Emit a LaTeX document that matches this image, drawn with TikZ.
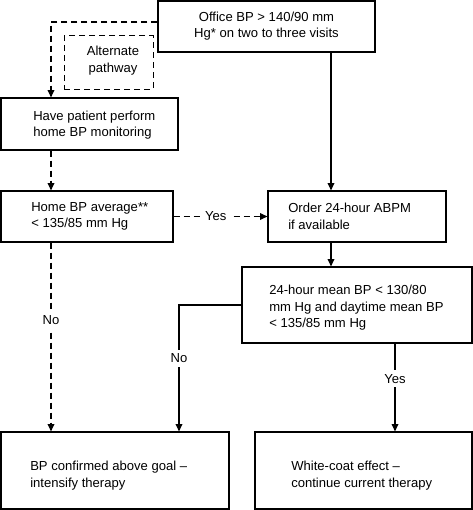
\documentclass[tikz,border=0pt]{standalone}
\usepackage{fontspec}
\setmainfont{Liberation Sans}
\usetikzlibrary{arrows.meta}
\begin{document}
\begin{tikzpicture}[x=0.75pt,y=-0.75pt,
  box/.style={draw, line width=0.9pt, inner sep=0pt},
  txt/.style={inner sep=0pt, font=\fontsize{9.8}{12.4}\selectfont, align=left},
  ctxt/.style={txt, align=center},
  arr/.style={line width=0.9pt, -{Triangle[length=5.5pt,width=5pt]}},
  dsh/.style={dash pattern=on 4.5pt off 3pt},
  lbl/.style={fill=white, inner sep=3pt, font=\fontsize{9.8}{12.4}\selectfont}]
\useasboundingbox (0,0) rectangle (473,510);
% lanes
\coordinate (laneL) at (51,0);
\coordinate (laneM) at (179,0);
\coordinate (laneR) at (331,0);
\coordinate (laneY) at (395,0);
% boxes
\node[box, minimum width=162.75pt, minimum height=38.25pt] (b1) at (266.5,26.5) {};
\node[box, dsh, line width=0.75pt, minimum width=66.75pt, minimum height=39.75pt] (bA) at (108.5,62.5) {};
\node[box, minimum width=132.75pt, minimum height=39pt] (b2) at (89.5,124) {};
\node[box, minimum width=129pt, minimum height=38.25pt] (b3) at (87,216.5) {};
\node[box, minimum width=133.5pt, minimum height=38.25pt] (b4) at (357,216.5) {};
\node[box, minimum width=172.5pt, minimum height=57pt] (b5) at (357,305) {};
\node[box, minimum width=171pt, minimum height=57.75pt] (b6) at (115,470.5) {};
\node[box, minimum width=162.75pt, minimum height=57.75pt] (b7) at (363.5,470.5) {};
% texts
\node[ctxt] (t1) at (266.5,26) {Office BP > 140/90 mm\\Hg* on two to three visits};
\node[ctxt] (tA) at (113,60.5) {Alternate\\pathway};
\node[txt, anchor=west] (t2) at (33,125) {Have patient perform\\home BP monitoring};
\node[txt, anchor=west] (t3) at (31,216.5) {Home BP average**\\< 135/85 mm Hg};
\node[txt, anchor=west] (t4) at (288,216.5) {Order 24-hour ABPM\\if available};
\node[txt, anchor=west] (t5) at (269,308) {24-hour mean BP < 130/80\\mm Hg and daytime mean BP\\< 135/85 mm Hg};
\node[txt, anchor=west] (t6) at (30,475.5) {BP confirmed above goal –\\intensify therapy};
\node[txt, anchor=west] (t7) at (291,475.5) {White-coat effect –\\continue current therapy};
% connectors
\draw[arr, dsh] ([yshift=3.4pt]b1.west) -| (b2.north -| laneL);
\draw[arr, dsh] (b2.south -| laneL) -- (b3.north -| laneL);
\draw[arr, dsh] (b3.south -| laneL) -- node[lbl, pos=0.41] (lNo1) {No} (b6.north -| laneL);
\draw[arr, dsh] (b3.east) -- node[lbl, pos=0.45] (lYes1) {Yes} (b4.west);
\draw[arr] (b1.south -| laneR) -- (b4.north -| laneR);
\draw[arr] (b4.south -| laneR) -- (b5.north -| laneR);
\draw[arr] (b5.west) -| node[lbl, pos=0.71] (lNo2) {No} (b6.north -| laneM);
\draw[arr] (b5.south -| laneY) -- node[lbl, pos=0.4] (lYes2) {Yes} (b7.north -| laneY);
\end{tikzpicture}
\end{document}
